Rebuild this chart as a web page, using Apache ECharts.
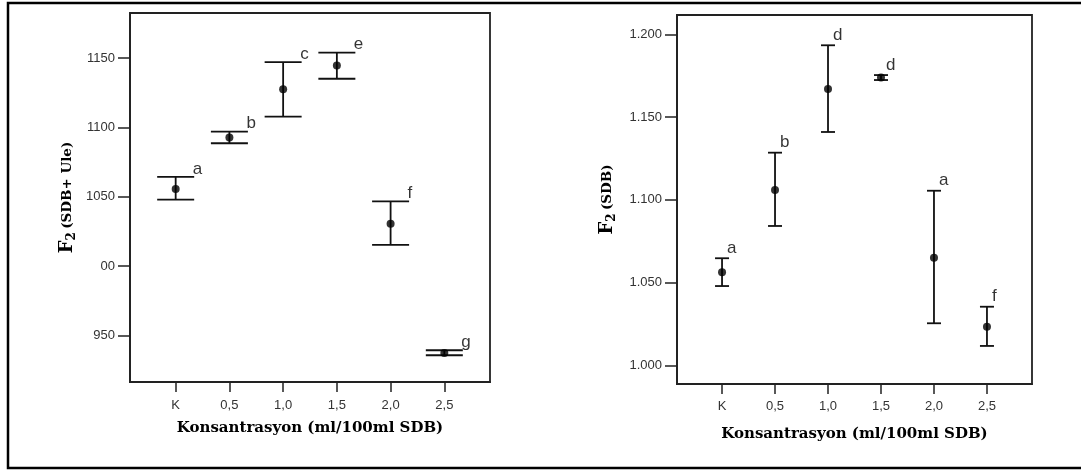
<!DOCTYPE html>
<html>
<head>
<meta charset="utf-8">
<title>F2</title>
<script src="https://cdn.jsdelivr.net/npm/echarts@6.0.0/dist/echarts.min.js"></script>
<style>
    html, body { margin: 0; padding: 0; background: #fff; }
    #chart { width: 1081px; height: 472px; }
</style>
</head>
<body>
<div id="chart"></div>
<script>
    // kategori (konsantrasyon)
    var categories = ['K', '0,5', '1,0', '1,5', '2,0', '2,5'];

    // sol grafik: F2 (SDB+ Ule)
    var leftMean = [1055.6, 1092.7, 1127.6, 1144.7, 1030.6, 937.4];
    var leftLow = [1047.9, 1088.6, 1107.8, 1135.1, 1015.4, 935.8];
    var leftHigh = [1064.3, 1097.0, 1147.1, 1154.0, 1046.7, 939.4];
    var leftLetters = ['a', 'b', 'c', 'e', 'f', 'g'];
    var leftTicks = [950, 1000, 1050, 1100, 1150];
    var leftTickLabels = ['950', '00', '1050', '1100', '1150'];

    // sag grafik: F2 (SDB)
    var rightMean = [1.0562, 1.1059, 1.1670, 1.1740, 1.0650, 1.0233];
    var rightLow = [1.0479, 1.0842, 1.1410, 1.1724, 1.0254, 1.0117];
    var rightHigh = [1.0647, 1.1285, 1.1934, 1.1754, 1.1055, 1.0354];
    var rightLetters = ['a', 'b', 'd', 'd', 'a', 'f'];
    var rightTicks = [1.000, 1.050, 1.100, 1.150, 1.200];
    var rightTickLabels = ['1.000', '1.050', '1.100', '1.150', '1.200'];

    var xIdx = categories.map(function (c, i) { return i; });

    function barData(low, high) {
        return xIdx.map(function (i) { return [i, low[i], high[i]]; });
    }
    function pointData(mean) {
        return xIdx.map(function (i) { return [i, mean[i]]; });
    }
    function letterData(high, letters) {
        return xIdx.map(function (i) { return [i, high[i], letters[i]]; });
    }

    function errorBar(halfW) {
        return function (params, api) {
            var x = api.value(0);
            var top = api.coord([x, api.value(2)]);
            var bot = api.coord([x, api.value(1)]);
            var st = { stroke: '#111', lineWidth: 1.8 };
            return {
                type: 'group',
                children: [
                    { type: 'line', shape: { x1: top[0], y1: top[1], x2: bot[0], y2: bot[1] }, style: st },
                    { type: 'line', shape: { x1: top[0] - halfW, y1: top[1], x2: top[0] + halfW, y2: top[1] }, style: st },
                    { type: 'line', shape: { x1: bot[0] - halfW, y1: bot[1], x2: bot[0] + halfW, y2: bot[1] }, style: st }
                ]
            };
        };
    }

    var nameStyle = { color: '#000', fontFamily: 'DejaVu Serif', fontWeight: 'bold', fontSize: 15 };

    function xAxisCfg(gridIndex, gap, margin) {
        return {
            type: 'value', gridIndex: gridIndex, min: -0.85, max: 5.85,
            name: 'Konsantrasyon (ml/100ml SDB)', nameLocation: 'middle', nameGap: gap,
            nameTextStyle: nameStyle,
            axisLine: { show: true, onZero: false, lineStyle: { color: '#222', width: 1.8 } },
            axisTick: { show: true, length: 10, customValues: xIdx, lineStyle: { color: '#222', width: 1.5 } },
            axisLabel: {
                customValues: xIdx, margin: margin,
                color: '#333', fontFamily: 'Liberation Sans', fontSize: 13,
                formatter: function (v) { return categories[Math.round(v)]; }
            },
            splitLine: { show: false }
        };
    }

    function yAxisCfg(gridIndex, min, max, ticks, labels, name, gap) {
        return {
            type: 'value', gridIndex: gridIndex, min: min, max: max,
            name: name, nameLocation: 'middle', nameGap: gap, nameRotate: 90,
            nameTextStyle: {
                rich: {
                    f: { fontFamily: 'DejaVu Serif', fontWeight: 'bold', fontSize: 18, lineHeight: 22, color: '#000', verticalAlign: 'middle' },
                    s: { fontFamily: 'DejaVu Serif', fontWeight: 'bold', fontSize: 12, lineHeight: 12, color: '#000', verticalAlign: 'bottom', padding: [7, 0, 0, 0] },
                    t: { fontFamily: 'DejaVu Serif', fontWeight: 'bold', fontSize: 13.5, lineHeight: 22, color: '#000', verticalAlign: 'middle' }
                }
            },
            axisLine: { show: true, onZero: false, lineStyle: { color: '#222', width: 1.8 } },
            axisTick: { show: true, length: 12, customValues: ticks, lineStyle: { color: '#222', width: 1.5 } },
            axisLabel: {
                customValues: ticks, margin: 15,
                color: '#333', fontFamily: 'Liberation Sans', fontSize: 13,
                formatter: function (v) {
                    for (var i = 0; i < ticks.length; i++) {
                        if (Math.abs(ticks[i] - v) < 1e-9) return labels[i];
                    }
                    return '';
                }
            },
            splitLine: { show: false }
        };
    }

    var chartDom = document.getElementById('chart');
    var myChart = echarts.init(chartDom);

    var option = {
        animation: false,
        backgroundColor: '#fff',
        graphic: [
            // dis cerceve
            { type: 'rect', shape: { x: 8, y: 3, width: 1100, height: 465 }, style: { fill: 'none', stroke: '#000', lineWidth: 2.5 }, silent: true }
        ],
        grid: [
            { left: 130, top: 13, right: 591, bottom: 90, show: true, borderColor: '#222', borderWidth: 1.8, backgroundColor: 'transparent' },
            { left: 677, top: 15, right: 49, bottom: 88, show: true, borderColor: '#222', borderWidth: 1.8, backgroundColor: 'transparent' }
        ],
        xAxis: [xAxisCfg(0, 39, 17), xAxisCfg(1, 43, 16)],
        yAxis: [
            yAxisCfg(0, 916.5, 1182.5, leftTicks, leftTickLabels, '{f|F}{s|2} {t|(SDB+ Ule)}', 52),
            yAxisCfg(1, 0.9887, 1.2117, rightTicks, rightTickLabels, '{f|F}{s|2} {t|(SDB)}', 59)
        ],
        series: [
            {
                type: 'custom', xAxisIndex: 0, yAxisIndex: 0,
                renderItem: errorBar(18.5), encode: { x: 0, y: [1, 2] },
                data: barData(leftLow, leftHigh)
            },
            {
                type: 'scatter', xAxisIndex: 0, yAxisIndex: 0,
                symbol: 'circle', symbolSize: 8, itemStyle: { color: '#000' },
                data: pointData(leftMean)
            },
            {
                type: 'scatter', xAxisIndex: 0, yAxisIndex: 0, symbolSize: 0,
                label: {
                    show: true, position: 'right', distance: 0, offset: [17, -8],
                    fontFamily: 'Liberation Sans', fontSize: 17, color: '#000',
                    formatter: function (p) { return p.data[2]; }
                },
                data: letterData(leftHigh, leftLetters)
            },
            {
                type: 'custom', xAxisIndex: 1, yAxisIndex: 1,
                renderItem: errorBar(7), encode: { x: 0, y: [1, 2] },
                data: barData(rightLow, rightHigh)
            },
            {
                type: 'scatter', xAxisIndex: 1, yAxisIndex: 1,
                symbol: 'circle', symbolSize: 8, itemStyle: { color: '#000' },
                data: pointData(rightMean)
            },
            {
                type: 'scatter', xAxisIndex: 1, yAxisIndex: 1, symbolSize: 0,
                label: {
                    show: true, position: 'right', distance: 0, offset: [5, -10],
                    fontFamily: 'Liberation Sans', fontSize: 17, color: '#000',
                    formatter: function (p) { return p.data[2]; }
                },
                data: letterData(rightHigh, rightLetters)
            }
        ]
    };

    myChart.setOption(option);
</script>
</body>
</html>
